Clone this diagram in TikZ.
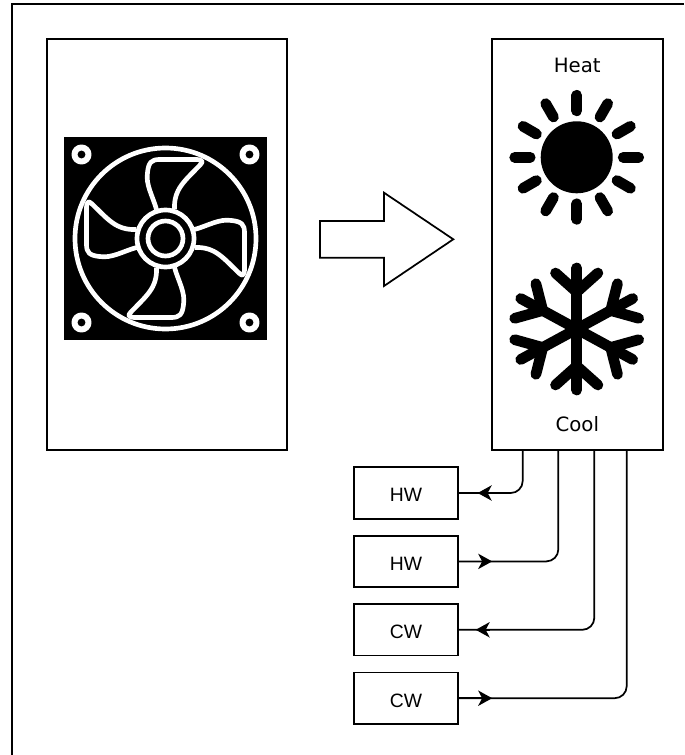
\documentclass[tikz,border=0pt]{standalone}
\usepackage{fontspec}
\setmainfont{Liberation Sans}
\newfontfamily\labelfont{DejaVu Sans}
\usetikzlibrary{arrows.meta,positioning}
\tikzset{
  housing/.style={draw, line width=1.3pt, inner sep=0pt, minimum width=#1, minimum height=308pt},
  portbox/.style={draw, line width=1.3pt, inner sep=0pt, outer sep=0pt, minimum width=77.5pt, minimum height=38.5pt, text height=13.4pt, text depth=0pt, font=\fontsize{14.5}{17}\selectfont},
  modelabel/.style={inner sep=0pt, font=\labelfont\fontsize{14.8}{17}\selectfont},
  pipe/.style={line width=1.3pt, rounded corners=9pt},
  flowtip/.style={line width=1.3pt, -{Stealth[length=10.5pt,width=11.5pt,inset=3pt]}},
  fanline/.style={draw=white, line width=3.5pt, line join=round},
  iconline/.style={line width=8pt, line cap=round},
}

\begin{document}
\begin{tikzpicture}[x=0.75pt, y=-0.75pt]
  \useasboundingbox (0,0) rectangle (684,755);

  % frame: top and left edges only
  \draw[line width=1.5pt] (11.5,755) -- (11.5,4.5) -- (684,4.5);

  % housings
  \node[housing=180pt] (fanbox) at (167,244.5) {};
  \node[housing=128.25pt] (modebox) at (577.3,244.5) {};

  % fan icon
  \fill (64,137) rectangle (267,340);
  \begin{scope}[shift={(165.5,238.5)}]
    \draw[fanline] (0,0) circle (90.5);
    \draw[fanline] (0,0) circle (28.5);
    \draw[fanline] (0,0) circle (17.5);
    \foreach \x/\y in {-84/-84, 84/-84, -84/84, 84/84}
      \draw[fanline, line width=4.5pt] (\x,\y) circle (7);
    \foreach \r in {0,90,180,270} {
      \begin{scope}[rotate=\r]
        \draw[fanline] (-9,-29) .. controls (-13,-43) and (-20,-54) .. (-18,-66)
          .. controls (-17,-76) and (-14,-79) .. (-6,-79)
          -- (30,-79) .. controls (37,-79) and (38,-77) .. (35,-74)
          .. controls (20,-58) and (8,-50) .. (9,-29);
      \end{scope}
    }
  \end{scope}

  % sun
  \node[modelabel] (heatlabel) at (577.3,65.7) {Heat};
  \begin{scope}[shift={(576.7,157.3)}]
    \fill (0,0) circle (36);
    \foreach \a in {0,30,...,330}
      \draw[iconline] (\a:46.5) -- (\a:62);
  \end{scope}

  % snowflake
  \begin{scope}[shift={(576.7,329)}, xscale=1.06]
    \foreach \a in {0,60,...,300} {
      \begin{scope}[rotate=\a]
        \draw[iconline] (0,0) -- (0,-61);
        \draw[iconline, line join=round] (-20,-56) -- (0,-37) -- (20,-56);
      \end{scope}
    }
  \end{scope}
  \node[modelabel] (coollabel) at (577.3,424.3) {Cool};

  % big arrow
  \draw[line width=1.3pt] (320,221) -- (384,221) -- (384,192.7) -- (453.3,239.3)
    -- (384,286) -- (384,257.7) -- (320,257.7) -- cycle;

  % ports
  \node[portbox] (hwa) at (406,493) {HW};
  \node[portbox, below=12.8pt of hwa] (hwb) {HW};
  \node[portbox, below=12.8pt of hwb] (cwa) {CW};
  \node[portbox, below=12.8pt of cwa] (cwb) {CW};

  \coordinate (outa) at (522.7,450);
  \coordinate (outb) at (558.3,450);
  \coordinate (outc) at (594.3,450);
  \coordinate (outd) at (626.7,450);

  \draw[pipe] (outa) |- (hwa.east);
  \draw[pipe] (outb) |- (hwb.east);
  \draw[pipe] (outc) |- (cwa.east);
  \draw[pipe] (outd) |- (cwb.east);

  % flow direction
  \draw[flowtip] (hwa.east) ++(34,0) -- ++(-14,0);
  \draw[flowtip] (hwb.east) -- ++(34.5,0);
  \draw[flowtip] (cwa.east) ++(32,0) -- ++(-14,0);
  \draw[flowtip] (cwb.east) -- ++(34.5,0);
\end{tikzpicture}
\end{document}
